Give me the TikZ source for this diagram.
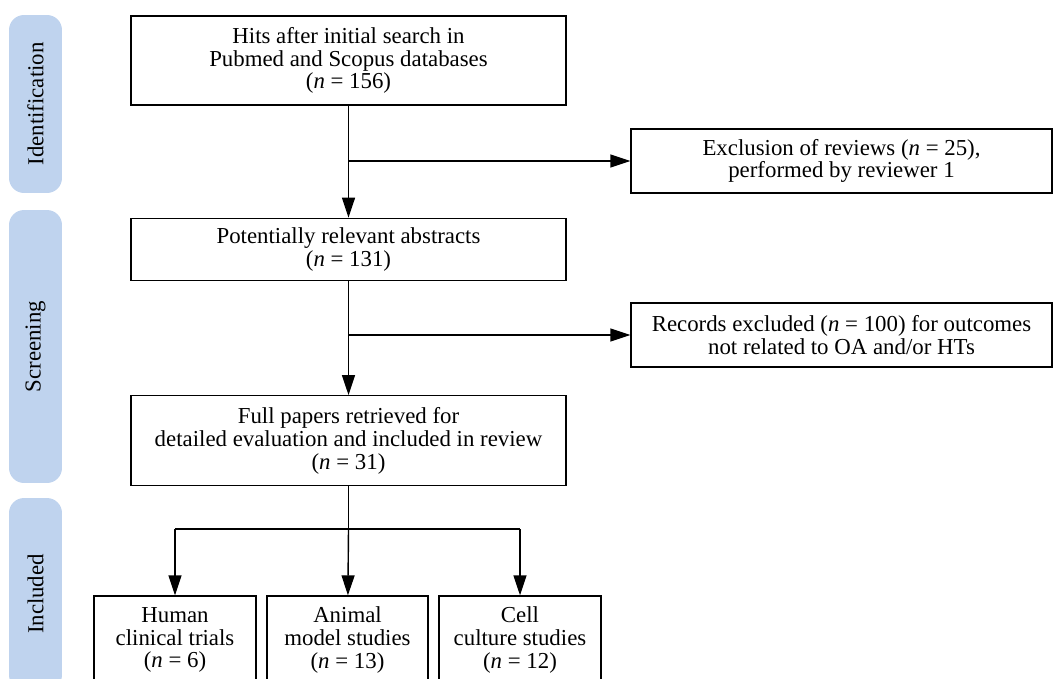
\documentclass[tikz,border=0pt]{standalone}
\usepackage{fontspec}
\setmainfont{Liberation Serif}
\usepackage{xcolor}
\usepackage{tikz}
\usetikzlibrary{arrows.meta,positioning}
\definecolor{bandblue}{RGB}{191,211,238}

\begin{document}
\begin{tikzpicture}[
  x=0.02cm, y=-0.02cm,
  node distance=2.24cm,
  font=\fontsize{13}{12.9}\selectfont,
  box/.style={draw=black, line width=0.8pt, fill=white, minimum width=8.7cm, align=center, inner sep=2pt},
  sidebox/.style={box, minimum width=8.42cm, minimum height=1.28cm},
  smallbox/.style={box, minimum width=3.24cm, minimum height=1.76cm},
  band/.style={fill=bandblue, rounded corners=0.3cm, rotate=90, minimum height=1.06cm, inner sep=0pt},
  arrow/.style={-{Triangle[length=0.4cm, width=0.26cm]}, line width=0.8pt, draw=black}
]
\useasboundingbox (0,0) rectangle (1054,679);
\clip (0,0) rectangle (1054,679);

% phase bands
\node[band, minimum width=3.56cm] (ident) at (35.5,104) {Identification};
\node[band, minimum width=5.46cm] (screen) at (35.5,346.5) {Screening};
\node[band, minimum width=3.84cm] (incl) at (35.5,594) {Included};

% main column
\node[box, minimum height=1.78cm] (hits) at (348.5,60.5) {Hits after initial search in\\Pubmed and Scopus databases\\(\textit{n} = 156)};
\node[box, minimum height=1.24cm, below=of hits] (relevant) {Potentially relevant abstracts\\(\textit{n} = 131)};
\node[box, minimum height=1.8cm, below=2.28cm of relevant] (full) {Full papers retrieved for\\detailed evaluation and included in review\\(\textit{n} = 31)};

% exclusions
\node[sidebox] (reviews) at (841.5,161) {Exclusion of reviews (\textit{n} = 25),\\performed by reviewer 1};
\node[sidebox] (records) at (841.5,335) {Records excluded (\textit{n} = 100) for outcomes\\not related to OA and/or HTs};

% included studies
\node[smallbox] (human) at (175,640) {Human\\clinical trials\\(\textit{n} = 6)};
\node[smallbox, minimum width=3.22cm] (animal) at (347.5,640) {Animal\\model studies\\(\textit{n} = 13)};
\node[smallbox] (cell) at (520,640) {Cell\\culture studies\\(\textit{n} = 12)};

\coordinate (b1) at (hits.south |- reviews.west);
\coordinate (b2) at (relevant.south |- records.west);
\coordinate (split) at (348.5,529);

\draw[arrow] (hits) -- (relevant);
\draw[arrow] (b1) -- (reviews.west);
\draw[arrow] (relevant) -- (full);
\draw[arrow] (b2) -- (records.west);
\draw[line width=0.8pt] (full) -- (split);
\draw[line width=0.8pt] (split -| human) -- (split -| cell);
\draw[arrow] (split -| human) -- (human);
\draw[arrow] (split) -- (animal);
\draw[arrow] (split -| cell) -- (cell);
\end{tikzpicture}
\end{document}
